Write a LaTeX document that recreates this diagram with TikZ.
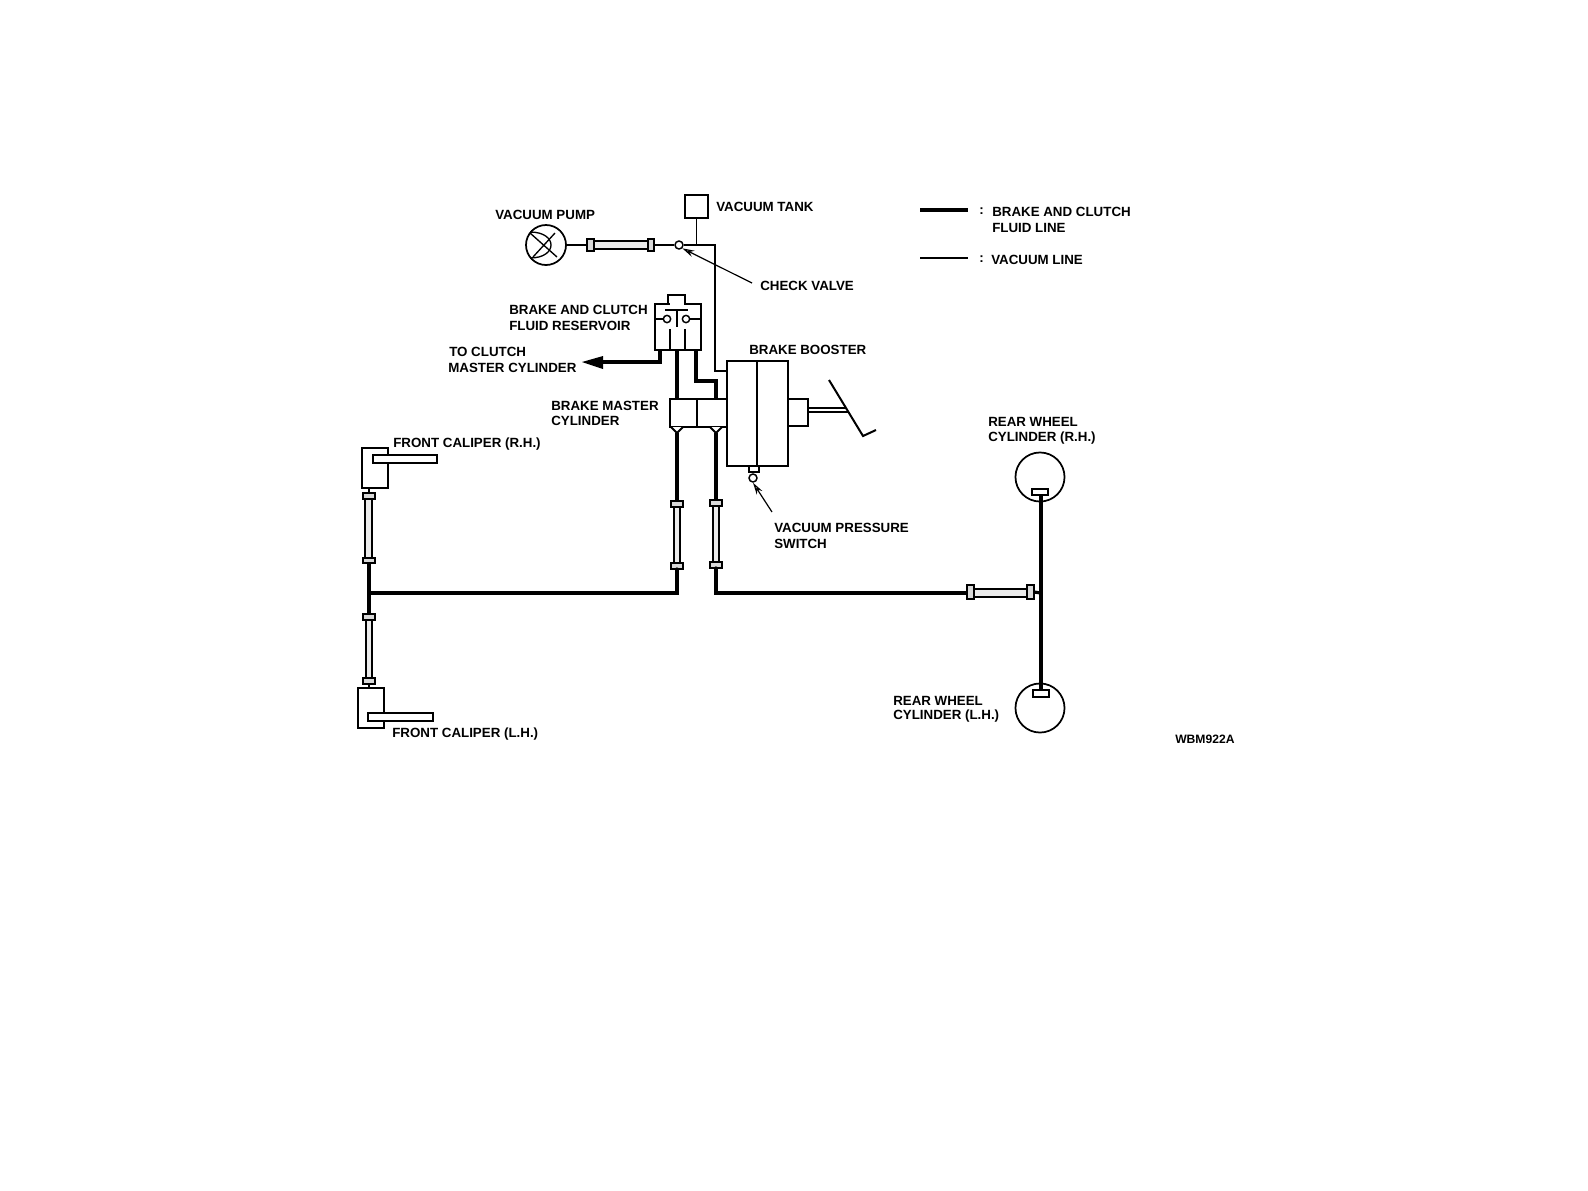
\documentclass[tikz,border=0pt]{standalone}
\usepackage{fontspec}
\setmainfont{Liberation Sans}
\usetikzlibrary{arrows.meta}
\newcommand{\pxbox}[6][partbox]{%
  \pgfmathsetmacro{\bcx}{(#3+#5)/2}\pgfmathsetmacro{\bcy}{(#4+#6)/2}%
  \pgfmathsetmacro{\bw}{(#5-#3)*0.75}\pgfmathsetmacro{\bh}{(#6-#4)*0.75}%
  \node[#1,minimum width=\bw pt,minimum height=\bh pt] (#2) at (\bcx,\bcy) {};}
\tikzset{
  x=0.75pt,y=-0.75pt,
  partbox/.style={draw=black,fill=white,line width=1.6pt,inner sep=0pt,outer sep=0pt},
  thinbox/.style={draw=black,fill=white,line width=1.3pt,inner sep=0pt,outer sep=0pt},
  fitting/.style={draw=black,fill=white!85!black,line width=1.4pt,inner sep=0pt,outer sep=0pt},
  hosebox/.style={draw=black,fill=white!92!black,line width=1.5pt,inner sep=0pt,outer sep=0pt},
  vacline/.style={line width=1.3pt,draw=black},
  fluidline/.style={line width=2.4pt,draw=black},
  lbl/.style={anchor=west,inner sep=0pt,font=\fontsize{10}{12}\bfseries\selectfont,text=black},
  tiplbl/.style={anchor=west,inner sep=0pt,font=\fontsize{9.1}{11}\bfseries\selectfont,text=black},
  arrowline/.style={line width=0.9pt,draw=black,-{Stealth[length=9pt,width=5pt,open]}},
  dot/.style={circle,draw=black,fill=white,line width=1.1pt,inner sep=0pt,minimum size=#1},
}
\begin{document}
\begin{tikzpicture}
\useasboundingbox (0,0) rectangle (1588,1190);
% junction and end coordinates
\coordinate (tankj) at (697,245);
\coordinate (vtop) at (715,245);
\coordinate (vbot) at (715,371);
\coordinate (mid1) at (696,381);
\coordinate (mid2) at (716,381);
\coordinate (clutchA) at (660,362);
\coordinate (clutchTip) at (582,362);
\coordinate (lj) at (369,593);
\coordinate (rj) at (1041,593);
\coordinate (lc) at (677,593);
\coordinate (rc) at (716,593);
% main parts
\node[circle,draw=black,line width=1.3pt,inner sep=0pt,minimum size=30pt,fill=white] (pump) at (546,245) {};
\pxbox[thinbox]{tank}{685}{195}{708}{218}
\pxbox[thinbox]{booster}{727}{361}{788}{466}
\pxbox[partbox]{reservoir}{655}{304}{701}{350}
\pxbox[partbox]{rescap}{668}{295}{685}{304}
\draw[white,line width=2pt] (669.5,304) -- (683.5,304);
\pxbox[thinbox]{master}{670}{399}{727}{427}
\pxbox[thinbox]{rodblock}{788}{399}{808}{426}
\pxbox[thinbox]{switchbase}{749}{466}{759}{472}
\node[dot=6pt] (valve) at (679,245) {};
\node[dot=6pt] (switchball) at (753,478) {};
\draw[vacline] (tank.south) -- (tank.south |- tankj);
\draw[vacline] (valve.east) -- (vtop) -- (vbot) -- (vbot -| booster.west);
\draw[vacline] (switchbase.south -| switchball) -- (switchball.north);
% pump inside
\draw[line width=1pt] (530,233) -- (557,257);
\draw[line width=1pt] (555,233) -- (533,257);
\draw[line width=1pt] (530,232) .. controls (558,232) and (558,258) .. (530,258);
% pump hose
\pxbox[hosebox]{phose}{591}{241}{650}{249}
\pxbox[fitting]{pf1}{587}{239}{594}{251}
\pxbox[fitting]{pf2}{648}{239}{654}{251}
\draw[vacline] (pump.east) -- (pf1.west);
\draw[vacline] (pf2.east) -- (valve.west);
% booster, master details
\draw[vacline] (booster.north -| 757,0) -- (booster.south -| 757,0);
\draw[vacline] (master.north -| 697,0) -- (master.south -| 697,0);
% reservoir inside
\node[dot=5.5pt] (r1) at (667,319) {};
\node[dot=5.5pt] (r2) at (686,319) {};
\draw[line width=1.6pt] (665,310) -- (688,310);
\draw[line width=1.2pt] (677,310) -- (677,327);
\draw[line width=1.2pt] (reservoir.west |- r1) -- (r1.west);
\draw[line width=1.2pt] (reservoir.east |- r2) -- (r2.east);
\draw[line width=1.5pt] (670,329) -- (670,350);
\draw[line width=1.5pt] (685,329) -- (685,350);
% reservoir outlets
\draw[fluidline] (reservoir.south -| clutchA) -- (clutchA) -- (603,362);
\fill (603,356) -- (603,369) -- (clutchTip) -- cycle;
\draw[fluidline] (reservoir.south -| 677,0) -- (master.north -| 677,0);
\draw[fluidline] (reservoir.south -| mid1) -- (mid1) -- (mid2) -- (master.north -| mid2);
% V fittings
\draw[line width=1.5pt,fill=white] (671,427) -- (677,433) -- (683,427);
\draw[line width=1.5pt,fill=white] (710,427) -- (716,433) -- (722,427);
% pedal and rod
\draw[vacline] (rodblock.east |- 0,408) -- (846,408);
\draw[vacline] (rodblock.east |- 0,412) -- (848,412);
\coordinate (ped1) at (829,380);
\coordinate (ped2) at (863,436);
\coordinate (ped3) at (876,430);
\draw[line width=1.5pt] (ped1) -- (ped2) -- (ped3);
% brake lines
\pxbox[hosebox]{ch1}{674}{507}{680}{563}
\pxbox[fitting]{cf1}{671}{501}{683}{507}
\pxbox[fitting]{cf2}{671}{563}{683}{569}
\pxbox[hosebox]{ch2}{713}{505}{719}{562}
\pxbox[fitting]{cf3}{710}{500}{722}{506}
\pxbox[fitting]{cf4}{710}{562}{722}{568}
\draw[fluidline] (677,433) -- (cf1.north);
\draw[fluidline] (716,433) -- (cf3.north);
\draw[fluidline,line cap=round] (cf2.south) -- (lc) -- (lj);
\draw[fluidline,line cap=round] (cf4.south) -- (rc) -- (967,593);
% front calipers
\pxbox[thinbox]{frh}{362}{448}{388}{488}
\pxbox[thinbox]{frhbar}{373}{455}{437}{463}
\pxbox[thinbox]{flh}{358}{688}{384}{728}
\pxbox[thinbox]{flhbar}{368}{713}{433}{721}
\pxbox[hosebox]{fh1}{365}{499}{372}{558}
\pxbox[fitting]{ff1}{363}{493}{375}{499}
\pxbox[fitting]{ff2}{363}{558}{375}{563}
\pxbox[hosebox]{fh2}{366}{620}{372}{678}
\pxbox[fitting]{ff3}{363}{614}{375}{620}
\pxbox[fitting]{ff4}{363}{678}{375}{684}
\draw[line width=1.6pt] (369,488) -- (ff1.north);
\draw[line width=1.6pt] (ff4.south) -- (369,688);
\draw[fluidline] (ff2.south) -- (ff3.north);
% rear
\node[circle,draw=black,line width=1.3pt,inner sep=0pt,outer sep=0pt,minimum size=36.8pt] (rrh) at (1040,477) {};
\node[circle,draw=black,line width=1.3pt,inner sep=0pt,outer sep=0pt,minimum size=36.8pt] (rlh) at (1040,708) {};
\pxbox[thinbox]{rrhb}{1032}{489}{1048}{495}
\pxbox[thinbox]{rlhb}{1033}{690}{1049}{697}
\draw[fluidline] (rrhb.south -| 1041,0) -- (rlhb.north -| 1041,0);
\pxbox[hosebox]{rh}{973}{589}{1028}{597}
\pxbox[fitting]{rf1}{967}{585}{974}{599}
\pxbox[fitting]{rf2}{1027}{585}{1034}{599}
\draw[fluidline] (rf2.east) -- (rj);
% legend
\coordinate (la) at (920,210);\coordinate (lb) at (968,210);
\coordinate (lc2) at (920,258);\coordinate (ld) at (968,258);
\draw[fluidline] (la) -- (lb);
\draw[line width=1.5pt] (lc2) -- (ld);
% leader arrows
\coordinate (cvtail) at (752,283);
\coordinate (vstail) at (772,512);
\draw[arrowline] (cvtail) -- (valve.south east);
\draw[arrowline] (vstail) -- (switchball.south);
% labels
\node[lbl] (t1) at (495,215) {VACUUM PUMP};
\node[lbl] (t2) at (716,207) {VACUUM TANK};
\node[lbl] (t3) at (979,211) {:};
\node[lbl] (t4) at (992,212) {BRAKE AND CLUTCH};
\node[lbl] (t5) at (992,228) {FLUID LINE};
\node[lbl] (t6) at (979,259) {:};
\node[lbl] (t7) at (991,260) {VACUUM LINE};
\node[lbl] (t8) at (760,286) {CHECK VALVE};
\node[lbl] (t9) at (509,310) {BRAKE AND CLUTCH};
\node[lbl] (t10) at (509,326) {FLUID RESERVOIR};
\node[lbl] (t11) at (449,352) {TO CLUTCH};
\node[lbl] (t12) at (448,368) {MASTER CYLINDER};
\node[lbl] (t13) at (749,350) {BRAKE BOOSTER};
\node[lbl] (t14) at (551,406) {BRAKE MASTER};
\node[lbl] (t15) at (551,421) {CYLINDER};
\node[lbl] (t16) at (393,444.5) {FRONT CALIPER (R.H.)};
\node[lbl] (t17) at (988,422) {REAR WHEEL};
\node[lbl] (t18) at (988,438) {CYLINDER (R.H.)};
\node[lbl] (t19) at (774,528) {VACUUM PRESSURE};
\node[lbl] (t20) at (774,544) {SWITCH};
\node[lbl] (t21) at (392,734.5) {FRONT CALIPER (L.H.)};
\node[lbl] (t22) at (893,701) {REAR WHEEL};
\node[lbl] (t23) at (893,716.5) {CYLINDER (L.H.)};
\node[tiplbl] (t24) at (1175,739) {WBM922A};
\end{tikzpicture}
\end{document}
